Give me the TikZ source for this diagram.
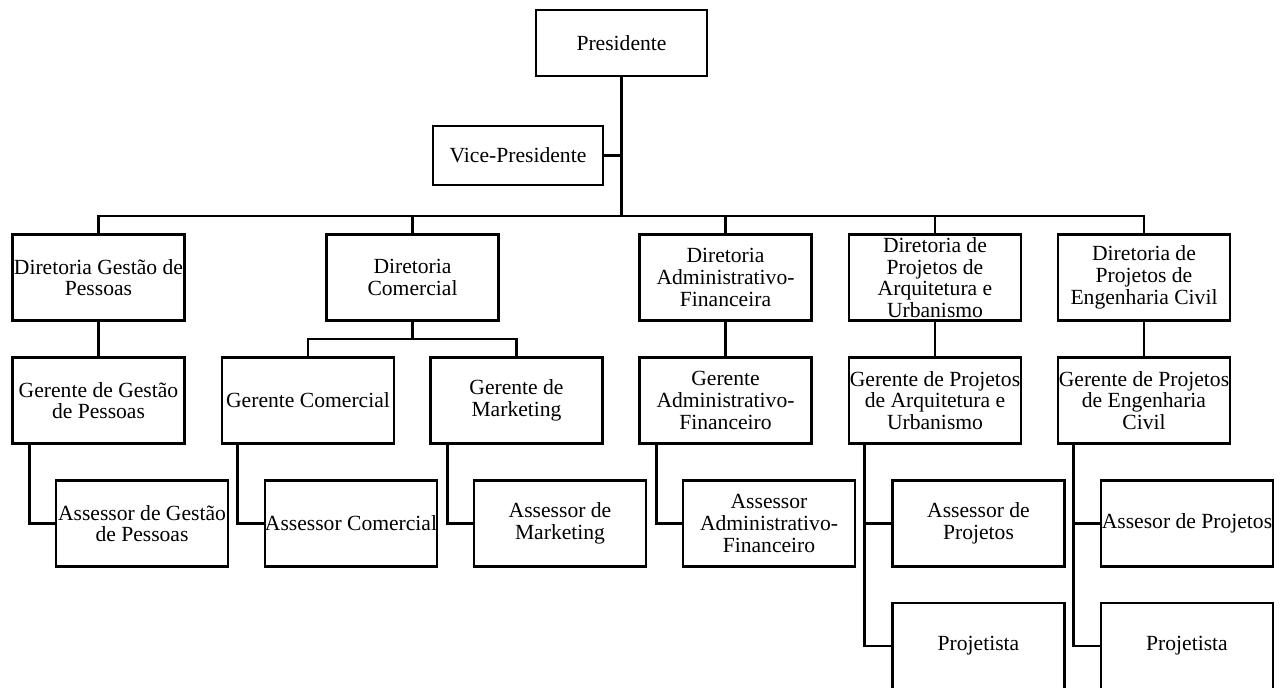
\documentclass[tikz,border=0pt]{standalone}
\usepackage{fontspec}
\setmainfont{Liberation Serif}
\usetikzlibrary{positioning,calc}

\begin{document}
\begin{tikzpicture}[x=1pt,y=-1pt,
		cargo/.style={draw, rectangle, line width=2.4pt, minimum width=172pt, minimum height=86pt, inner sep=0pt, align=center, font=\fontsize{21.6}{21.7}\selectfont},
		liga/.style={line width=2.7pt}]
				\useasboundingbox (0,0) rectangle (1285,688);
				
				% Presidencia
				\node[cargo, minimum width=171pt, minimum height=66pt] (pres) at (621.5,43) {Presidente};
				\node[cargo, minimum width=170pt, minimum height=59pt] (vp) at (518,155.5) {Vice-Presidente};
				\coordinate (bus) at (621.5,216);
				
				% Diretorias
				\node[cargo] (dgp) at (98.5,277.5) {Diretoria Gest\~ao de\\Pessoas};
				\node[cargo] (dc) at (412.5,277.5) {Diretoria\\Comercial};
				\node[cargo] (daf) at (725.5,277.5) {Diretoria\\Administrativo-\\Financeira};
				\node[cargo] (dpau) at (935,277.5) {Diretoria de\\Projetos de\\Arquitetura e\\Urbanismo};
				\node[cargo] (dec) at (1144,277.5) {Diretoria de\\Projetos de\\Engenharia Civil};
				
				% Gerentes
				\node[cargo] (ggp) at (98.5,400.5) {Gerente de Gest\~ao\\de Pessoas};
				\node[cargo] (gc) at (308,400.5) {Gerente Comercial};
				\node[cargo] (gm) at (516.5,400.5) {Gerente de\\Marketing};
				\node[cargo] (gaf) at (725.5,400.5) {Gerente\\Administrativo-\\Financeiro};
				\node[cargo] (gpau) at (935,400.5) {Gerente de Projetos\\de Arquitetura e\\Urbanismo};
				\node[cargo] (gec) at (1144,400.5) {Gerente de Projetos\\de Engenharia\\Civil};
				
				% Assessores
				\node[cargo] (agp) at (142,523.5) {Assessor de Gest\~ao\\de Pessoas};
				\node[cargo] (ac) at (351,523.5) {Assessor Comercial};
				\node[cargo] (am) at (560,523.5) {Assessor de\\Marketing};
				\node[cargo] (aaf) at (769,523.5) {Assessor\\Administrativo-\\Financeiro};
				\node[cargo] (apau) at (978.5,523.5) {Assessor de\\Projetos};
				\node[cargo] (aec) at (1187,523.5) {Assesor de Projetos};
				
				% Projetistas
				\node[cargo] (ppau) at (978.5,646) {Projetista};
				\node[cargo] (pec) at (1187,646) {Projetista};
				
				% Ligacoes do topo
				\draw[liga] (pres) -- (bus);
				\draw[liga] (vp) -- (vp -| pres);
				\draw[liga] (dgp.north) |- (bus) -| (dec.north);
				\draw[liga] (dc.north) -- (dc.north |- bus);
				\draw[liga] (daf.north) -- (daf.north |- bus);
				\draw[liga] (dpau.north) -- (dpau.north |- bus);
				
				% Diretorias -> gerentes
				\coordinate (cbus) at ($(dc.south)!0.5!(dc.south |- gc.north)$);
				\draw[liga] (dgp) -- (ggp);
				\draw[liga] (dc) -- (cbus);
				\draw[liga] (gc.north) |- (cbus) -| (gm.north);
				\draw[liga] (daf) -- (gaf);
				\draw[liga] (dpau) -- (gpau);
				\draw[liga] (dec) -- (gec);
				
				% Gerentes -> assessores
				\draw[liga] ([xshift=18pt]ggp.south west) |- (agp.west);
				\draw[liga] ([xshift=17pt]gc.south west) |- (ac.west);
				\draw[liga] ([xshift=18pt]gm.south west) |- (am.west);
				\draw[liga] ([xshift=18pt]gaf.south west) |- (aaf.west);
				\draw[liga] ([xshift=17pt]gpau.south west) |- (apau.west);
				\draw[liga] ([xshift=17pt]gpau.south west) |- (ppau.west);
				\draw[liga] ([xshift=17pt]gec.south west) |- (aec.west);
				\draw[liga] ([xshift=17pt]gec.south west) |- (pec.west);
			\end{tikzpicture}
\end{document}
